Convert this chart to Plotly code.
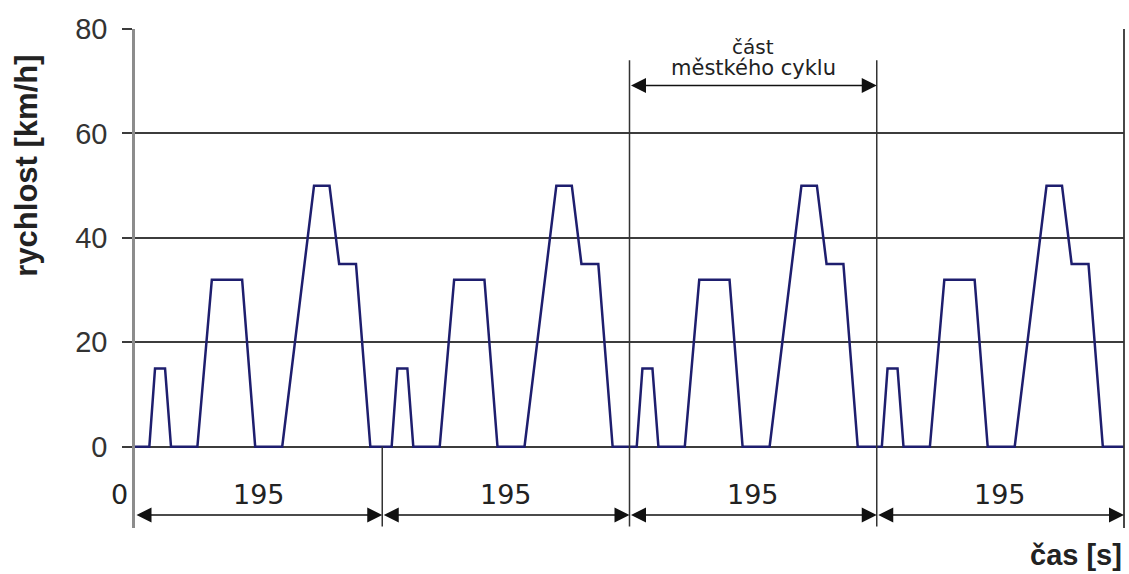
import plotly.graph_objects as go

# ---- data ----
cycle_rise_starts = [11.3, 202.4, 395.7, 589.0]          # s, start of first acceleration of each cycle
profile_rel_time = [0, 4.5, 12.4, 17.1, 37.9, 49.3, 73.2, 83.5, 104.8, 129.9, 142.1, 149.7, 163.0, 174.3]
profile_speed = [0, 15, 15, 0, 0, 32, 32, 0, 0, 50, 50, 35, 35, 0]
total_time = 780
cycle_bounds = [0, 195, 390, 585, 780]
cycle_label = "195"
y_ticks = [0, 20, 40, 60, 80]

# build full series
t_all = [0]
v_all = [0]
for s in cycle_rise_starts:
    for rt, v in zip(profile_rel_time, profile_speed):
        t_all.append(s + rt)
        v_all.append(v)
t_all.append(total_time)
v_all.append(0)

Y_MIN = -15.56
fig = go.Figure()
fig.add_trace(go.Scatter(x=t_all, y=v_all, mode="lines",
                         line=dict(color="#1e1e6e", width=2.5),
                         hoverinfo="skip", showlegend=False))

dark = "#333333"
shapes = []
# right border
shapes.append(dict(type="line", xref="paper", yref="paper", x0=1, x1=1, y0=0, y1=1,
                   line=dict(color=dark, width=1.8)))
# cycle boundaries
shapes.append(dict(type="line", xref="x", yref="y", x0=195, x1=195, y0=Y_MIN + 0.3, y1=0,
                   line=dict(color=dark, width=1.5)))
for b in [390, 585]:
    shapes.append(dict(type="line", xref="x", yref="y", x0=b, x1=b, y0=Y_MIN + 0.3, y1=74,
                       line=dict(color=dark, width=1.5)))

annotations = []
arrow_y = -13.07
for a, b in zip(cycle_bounds[:-1], cycle_bounds[1:]):
    annotations.append(dict(x=b, y=arrow_y, ax=a, ay=arrow_y, xref="x", yref="y",
                            axref="x", ayref="y", text="", showarrow=True,
                            arrowside="end+start", arrowhead=2, arrowsize=2.0,
                            arrowwidth=1.5, arrowcolor="#111"))
    annotations.append(dict(x=(a + b) / 2, y=-9.2, xref="x", yref="y", text=cycle_label,
                            showarrow=False, font=dict(family="DejaVu Sans", size=27, color="#222")))
annotations.append(dict(x=0, y=-9.2, xref="x", yref="y", text="0", showarrow=False,
                        xanchor="right", xshift=-5,
                        font=dict(family="DejaVu Sans", size=27, color="#222")))
# top arrow
annotations.append(dict(x=585, y=69.2, ax=390, ay=69.2, xref="x", yref="y",
                        axref="x", ayref="y", text="", showarrow=True,
                        arrowside="end+start", arrowhead=2, arrowsize=2.0,
                        arrowwidth=1.5, arrowcolor="#111"))
annotations.append(dict(x=487.5, y=76.6, xref="x", yref="y", text="část", showarrow=False,
                        font=dict(family="DejaVu Sans", size=20, color="#222")))
annotations.append(dict(x=487.5, y=72.5, xref="x", yref="y", text="městkého cyklu", showarrow=False,
                        font=dict(family="DejaVu Sans", size=21, color="#222")))
# axis titles
annotations.append(dict(x=-0.110, y=0.7265, xref="paper", yref="paper",
                        text="<b>rychlost [km/h]</b>", textangle=-90, showarrow=False,
                        xanchor="center", yanchor="middle",
                        font=dict(family="Liberation Sans", size=31, color="#222")))
annotations.append(dict(x=1, y=-0.054, xref="paper", yref="paper",
                        text="<b>čas [s]</b>", showarrow=False,
                        xanchor="right", yanchor="middle",
                        font=dict(family="Liberation Sans", size=29, color="#222")))

fig.update_layout(
    width=1129, height=574,
    margin=dict(l=135, r=5, t=29, b=46),
    paper_bgcolor="white", plot_bgcolor="white",
    shapes=shapes, annotations=annotations,
    xaxis=dict(range=[0, total_time], showgrid=False, zeroline=False, showline=False,
               showticklabels=False, ticks=""),
    yaxis=dict(range=[Y_MIN, 80], tickvals=y_ticks, showgrid=True, gridcolor="#3c3c3c",
               gridwidth=1.5, zeroline=False, showline=True, linecolor="#8c8c8c", linewidth=2.5,
               ticks="outside", ticklen=10, tickcolor="#3c3c3c", tickwidth=1.5,
               tickfont=dict(family="Liberation Sans", size=29, color="#333"),
               ticklabelstandoff=9),
)

fig.write_html("out.html", config={"displayModeBar": False},
               post_script="document.body.style.margin='0';document.body.style.overflow='hidden';")
